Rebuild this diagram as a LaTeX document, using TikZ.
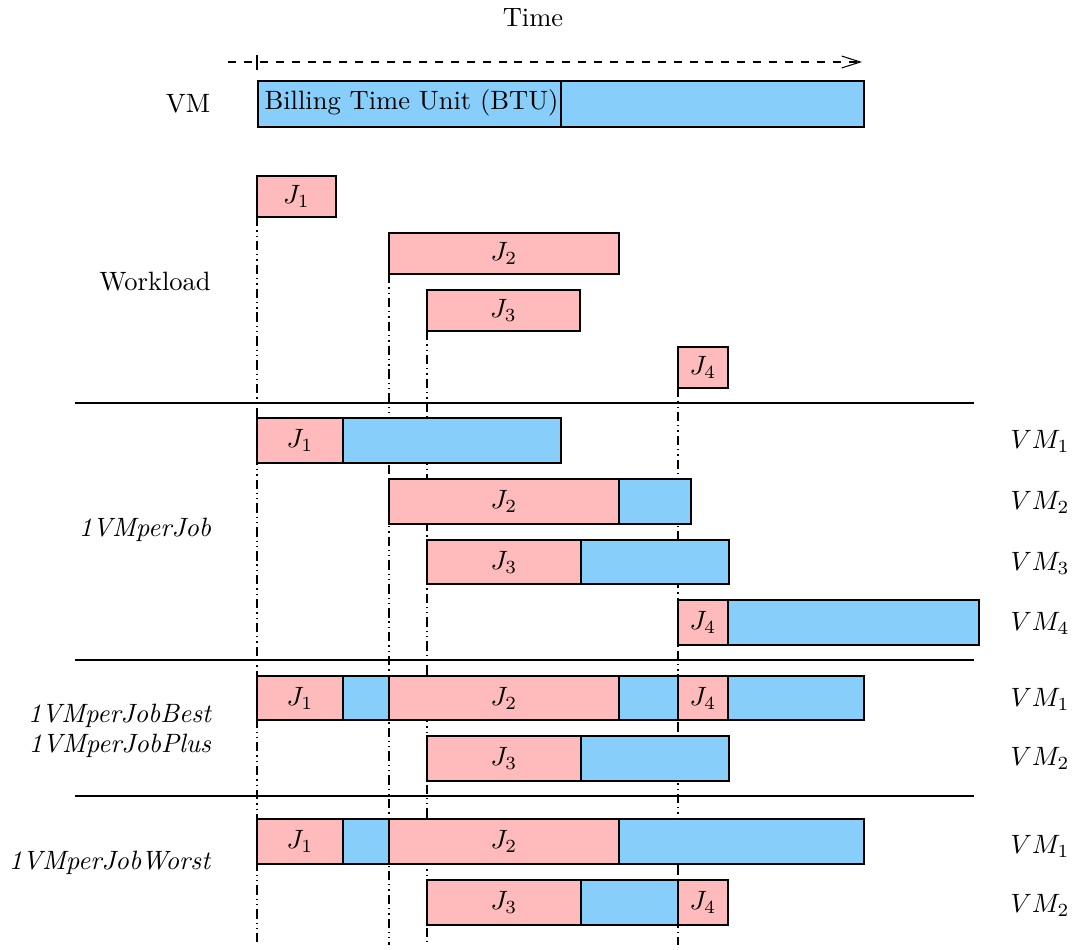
\documentclass[tikz,border=0pt]{standalone}
\usetikzlibrary{arrows.meta}
\definecolor{jobpink}{RGB}{255,187,187}
\definecolor{vmblue}{RGB}{135,206,250}
\tikzset{
  jobbox/.style={draw, fill=jobpink, inner sep=0pt, outer sep=0pt, anchor=north west},
  vmbox/.style={draw, fill=vmblue, inner sep=0pt, outer sep=0pt, anchor=north west},
  guide/.style={line width=0.4pt, dash pattern=on 3.5pt off 1.5pt on 0.5pt off 1.5pt on 0.5pt off 1.5pt},
  sep/.style={line width=0.4pt},
  lbl/.style={inner sep=0pt},
}
% \bx{name}{style}{x1}{x2}{y1}{y2}{text}
\newcommand{\bx}[7]{\node[#2, minimum width={0.377pt*(#4-#3)}, minimum height={0.377pt*(#6-#5)}] (#1) at (#3,#5) {#7};}
\begin{document}
\begin{tikzpicture}[x=0.377pt,y=-0.377pt]
\useasboundingbox (0,0) rectangle (1075,950);
% title and time axis
\node[lbl] (time) at (533,18) {Time};
\coordinate (tstart) at (228,62);
\coordinate (tend) at (862,62);
\draw[dashed, -{Straight Barb[length=7pt,width=4.5pt]}] (tstart) -- (tend);
\coordinate (ticka) at (257,55);
\coordinate (tickb) at (257,70);
\draw (ticka) -- (tickb);
% VM row
\node[lbl] (vmlab) at (188,104) {VM};
\bx{btu1}{vmbox}{258}{561}{81}{127}{}
\bx{btu2}{vmbox}{561}{864}{81}{127}{}
\node[lbl, anchor=west] (btutext) at (264,103) {Billing Time Unit (BTU)};
% workload
\node[lbl] (wl) at (155,282) {Workload};
\coordinate (g1) at (257,945);
\coordinate (g2) at (389,945);
\coordinate (g3) at (427,945);
\coordinate (g4) at (678,945);
\coordinate (w1b) at (257,217);
\coordinate (w2b) at (389,274);
\coordinate (w3b) at (427,331);
\coordinate (w4b) at (678,388);
\draw[guide] (w1b) -- (g1);
\draw[guide] (w2b) -- (g2);
\draw[guide] (w3b) -- (g3);
\draw[guide] (w4b) -- (g4);
\bx{w1}{jobbox}{257}{336}{176}{217}{$J_1$}
\bx{w2}{jobbox}{389}{619}{233}{274}{$J_2$}
\bx{w3}{jobbox}{427}{580}{290}{331}{$J_3$}
\bx{w4}{jobbox}{678}{728}{347}{388}{$J_4$}
% separator lines
\coordinate (s1a) at (75,403); \coordinate (s1b) at (974,403);
\draw[line width=0.9pt] (s1a) -- (s1b);
\coordinate (s2a) at (75,660); \coordinate (s2b) at (974,660);
\draw[sep] (s2a) -- (s2b);
\coordinate (s3a) at (75,796); \coordinate (s3b) at (974,796);
\draw[sep] (s3a) -- (s3b);
% 1VMperJob
\node[lbl] (l1) at (145,530) {\textit{1VMperJob}};
\bx{a1j}{jobbox}{257}{343}{418}{463}{$J_1$}
\bx{a1v}{vmbox}{343}{561}{418}{463}{}
\bx{a2j}{jobbox}{389}{619}{479}{524}{$J_2$}
\bx{a2v}{vmbox}{619}{691}{479}{524}{}
\bx{a3j}{jobbox}{427}{581}{540}{584}{$J_3$}
\bx{a3v}{vmbox}{581}{729}{540}{584}{}
\bx{a4j}{jobbox}{678}{728}{600}{645}{$J_4$}
\bx{a4v}{vmbox}{728}{979}{600}{645}{}
\node[lbl] (av1) at (1040,441) {$VM_1$};
\node[lbl] (av2) at (1040,502) {$VM_2$};
\node[lbl] (av3) at (1040,563) {$VM_3$};
\node[lbl] (av4) at (1040,623) {$VM_4$};
% Best / Plus
\node[lbl] (l2) at (120,716) {\textit{1VMperJobBest}};
\node[lbl] (l3) at (120,746) {\textit{1VMperJobPlus}};
\bx{b1j1}{jobbox}{257}{343}{676}{720}{$J_1$}
\bx{b1v1}{vmbox}{343}{389}{676}{720}{}
\bx{b1j2}{jobbox}{389}{619}{676}{720}{$J_2$}
\bx{b1v2}{vmbox}{619}{678}{676}{720}{}
\bx{b1j4}{jobbox}{678}{728}{676}{720}{$J_4$}
\bx{b1v4}{vmbox}{728}{864}{676}{720}{}
\bx{b2j3}{jobbox}{427}{581}{736}{781}{$J_3$}
\bx{b2v3}{vmbox}{581}{729}{736}{781}{}
\node[lbl] (bv1) at (1040,699) {$VM_1$};
\node[lbl] (bv2) at (1040,758) {$VM_2$};
% Worst
\node[lbl] (l4) at (110,863) {\textit{1VMperJobWorst}};
\bx{c1j1}{jobbox}{257}{343}{819}{864}{$J_1$}
\bx{c1v1}{vmbox}{343}{389}{819}{864}{}
\bx{c1j2}{jobbox}{389}{619}{819}{864}{$J_2$}
\bx{c1v2}{vmbox}{619}{864}{819}{864}{}
\bx{c2j3}{jobbox}{427}{581}{880}{925}{$J_3$}
\bx{c2v3}{vmbox}{581}{678}{880}{925}{}
\bx{c2j4}{jobbox}{678}{728}{880}{925}{$J_4$}
\node[lbl] (cv1) at (1040,846) {$VM_1$};
\node[lbl] (cv2) at (1040,905) {$VM_2$};
\end{tikzpicture}
\end{document}
